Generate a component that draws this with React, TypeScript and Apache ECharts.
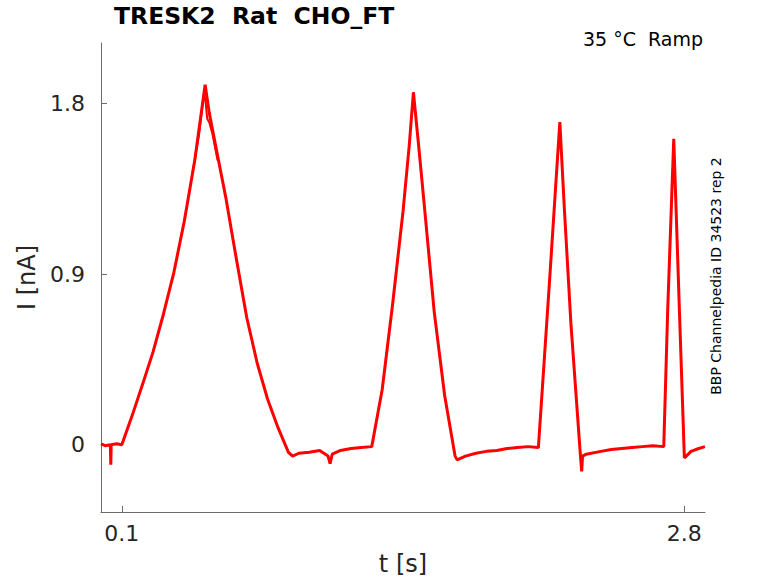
import React, { useEffect, useRef } from "react";
import * as echarts from "echarts";

// Time (s) and current (nA)
const timeS: number[] = [
  0, 0.02, 0.045, 0.047, 0.049, 0.075, 0.1,
  0.15, 0.2, 0.25, 0.3, 0.35, 0.4, 0.45, 0.5,
  0.52, 0.55, 0.6, 0.65, 0.7, 0.75, 0.8, 0.85, 0.9,
  0.92, 0.95, 1.0, 1.05, 1.09, 1.1, 1.11, 1.15, 1.2, 1.25, 1.3,
  1.35, 1.4, 1.45, 1.48, 1.5, 1.525, 1.55, 1.6, 1.65, 1.7, 1.71,
  1.75, 1.8, 1.85, 1.9, 1.95, 2.0, 2.05, 2.1,
  2.153, 2.203, 2.225, 2.256, 2.301, 2.308, 2.312,
  2.33, 2.4, 2.45, 2.5, 2.55, 2.6, 2.65, 2.702,
  2.721, 2.75, 2.777, 2.801, 2.81, 2.833, 2.87, 2.9,
];
const currentNA: number[] = [
  0.005, -0.005, 0.0, -0.105, 0.0, 0.005, 0.0,
  0.155, 0.32, 0.49, 0.69, 0.91, 1.18, 1.5, 1.9,
  1.75, 1.58, 1.3, 0.98, 0.67, 0.43, 0.24, 0.09, -0.04,
  -0.06, -0.045, -0.04, -0.03, -0.06, -0.1, -0.05, -0.03, -0.02, -0.015, -0.01,
  0.29, 0.74, 1.23, 1.58, 1.86, 1.58, 1.29, 0.7, 0.26, -0.06, -0.08,
  -0.06, -0.045, -0.035, -0.03, -0.02, -0.015, -0.01, -0.015,
  0.854, 1.703, 1.241, 0.643, -0.044, -0.141, -0.06,
  -0.05, -0.035, -0.025, -0.02, -0.015, -0.01, -0.005, -0.01,
  0.713, 1.615, 0.713, -0.07, -0.06, -0.035, -0.02, -0.01,
];

// Second overlapping sweep near the first peak
const repTimeS: number[] = [0.44, 0.47, 0.495, 0.503, 0.51, 0.52, 0.535, 0.56];
const repCurrentNA: number[] = [1.44, 1.63, 1.86, 1.8, 1.72, 1.7, 1.64, 1.5];

const xTicks: number[] = [0.1, 2.8];
const yTicks: number[] = [0, 0.9, 1.8];

const FONT = '"DejaVu Sans", "Noto Sans", sans-serif';

export default function App() {
  const ref = useRef<HTMLDivElement>(null);

  useEffect(() => {
    document.body.style.margin = "0";
    if (!ref.current) return;
    const chart = echarts.init(ref.current, undefined, { renderer: "svg" });
    const main = timeS.map((t, i) => [t, currentNA[i]]);
    const rep = repTimeS.map((t, i) => [t, repCurrentNA[i]]);

    chart.setOption({
      animation: false,
      backgroundColor: "#ffffff",
      grid: { left: 101, right: 73, top: 43, bottom: 71, containLabel: false },
      xAxis: {
        type: "value",
        min: 0,
        max: 2.9,
        name: "t [s]",
        nameLocation: "middle",
        nameGap: 40,
        nameTextStyle: { fontSize: 24, color: "#262626", fontFamily: FONT },
        axisLine: { show: true, onZero: false, lineStyle: { color: "#6b6b6b", width: 1 } },
        axisTick: { show: true, inside: true, length: 6, customValues: xTicks, lineStyle: { color: "#6b6b6b" } },
        axisLabel: {
          customValues: xTicks,
          fontSize: 22,
          color: "#262626",
          fontFamily: FONT,
          margin: 10,
          formatter: (v: number) => String(v),
        },
        splitLine: { show: false },
      },
      yAxis: {
        type: "value",
        min: -0.355,
        max: 2.12,
        name: "I [nA]",
        nameLocation: "middle",
        nameGap: 58,
        nameTextStyle: { fontSize: 24, color: "#262626", fontFamily: FONT },
        axisLine: { show: true, onZero: false, lineStyle: { color: "#6b6b6b", width: 1 } },
        axisTick: { show: true, inside: true, length: 6, customValues: yTicks, lineStyle: { color: "#6b6b6b" } },
        axisLabel: {
          customValues: yTicks,
          fontSize: 22,
          color: "#262626",
          fontFamily: FONT,
          margin: 16,
          formatter: (v: number) => String(v),
        },
        splitLine: { show: false },
      },
      series: [
        {
          type: "line",
          data: main,
          showSymbol: false,
          symbol: "none",
          lineStyle: { color: "#ff0000", width: 3 },
          z: 3,
        },
        {
          type: "line",
          data: rep,
          showSymbol: false,
          symbol: "none",
          lineStyle: { color: "#ff0000", width: 2 },
          z: 3,
        },
      ],
      graphic: [
        {
          type: "text",
          x: 114,
          y: 4,
          style: {
            text: "TRESK2  Rat  CHO_FT",
            font: `bold 23.5px ${FONT}`,
            fill: "#000000",
            align: "left",
            verticalAlign: "top",
          },
        },
        {
          type: "text",
          x: 703,
          y: 29,
          style: {
            text: "35 °C  Ramp",
            font: `19px ${FONT}`,
            fill: "#000000",
            align: "right",
            verticalAlign: "top",
          },
        },
        {
          type: "text",
          x: 716,
          y: 276,
          rotation: Math.PI / 2,
          style: {
            text: "BBP Channelpedia ID 34523 rep 2",
            font: `14px ${FONT}`,
            fill: "#000000",
            align: "center",
            verticalAlign: "middle",
          },
        },
      ],
    });

    return () => chart.dispose();
  }, []);

  return <div ref={ref} style={{ width: 778, height: 583 }} />;
}
